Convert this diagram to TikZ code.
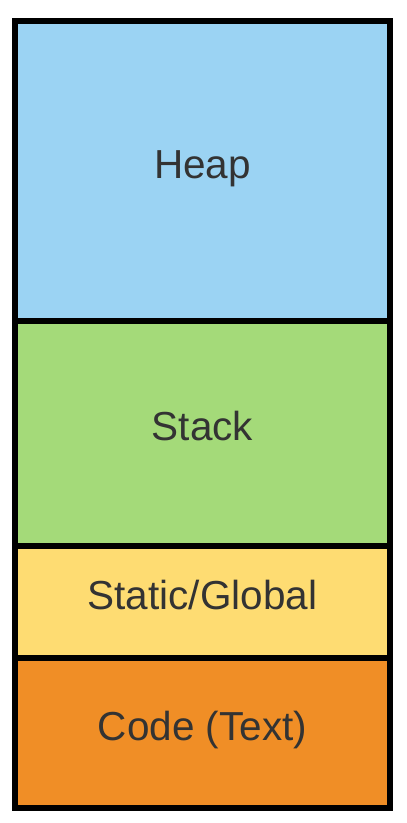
\documentclass[tikz,border=0pt]{standalone}
\usepackage{fontspec}
\setmainfont{Liberation Sans}
\definecolor{heapblue}{HTML}{9BD3F3}
\definecolor{stackgreen}{HTML}{A4DA79}
\definecolor{staticyellow}{HTML}{FEDC72}
\definecolor{codeorange}{HTML}{F08E26}
\definecolor{labelgray}{HTML}{333333}
\begin{document}
\begin{tikzpicture}[x=1pt, y=-1pt, every node/.style={rectangle, draw=black, line width=6pt, inner sep=0pt, minimum width=375pt, text height=30pt, text depth=15pt, text=labelgray, font=\fontsize{40.5}{48}\selectfont}]
        \useasboundingbox (0,0) rectangle (407,823);
        \node[fill=heapblue, minimum height=300pt] (heap) at (202.5, 171) {Heap};
        \node[fill=stackgreen, minimum height=224.7pt] (stack) at (202.5, 433.35) {Stack};
        \node[fill=staticyellow, minimum height=112pt] (static) at (202.5, 601.7) {Static/Global};
        \node[fill=codeorange, minimum height=150.3pt] (code) at (202.5, 732.85) {Code (Text)};
    \end{tikzpicture}
\end{document}
